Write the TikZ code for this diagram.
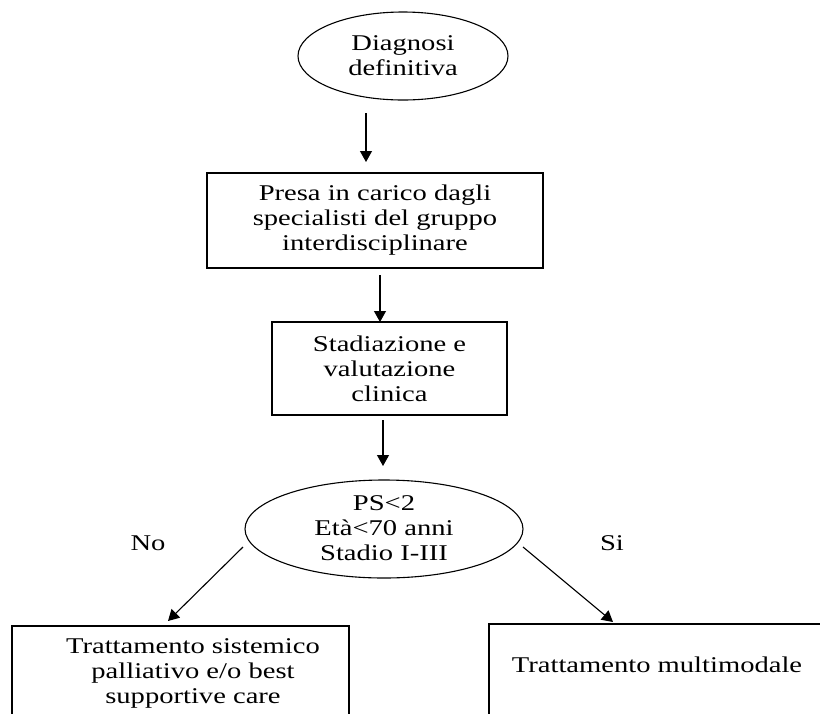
\documentclass[tikz,border=0pt]{standalone}
\usepackage{fontspec}
\setmainfont{Liberation Serif}[FakeStretch=1.27]
\usetikzlibrary{shapes.geometric,arrows.meta}
\begin{document}
\begin{tikzpicture}[x=1pt,y=-1pt,
  txt/.style={align=center,inner sep=0pt,font=\fontsize{22.5}{25}\selectfont},
  oval/.style={draw,ellipse,line width=1.1pt,inner sep=0pt},
  boxnode/.style={draw,rectangle,line width=1.1pt,inner sep=0pt},
  conn/.style={line width=1.1pt,-{Triangle[length=11pt,width=12pt]}}]
\useasboundingbox (0,0) rectangle (820,713);
\clip (0,0) rectangle (820,713);
% nodes
\node[oval,minimum width=210pt,minimum height=88pt] (d1) at (403,56) {};
\node[txt] (d1t) at (403,56) {Diagnosi\\definitiva};
\node[boxnode,txt,minimum width=336pt,minimum height=95pt] (b1) at (375,220.5)
  {Presa in carico dagli\\specialisti del gruppo\\interdisciplinare};
\node[boxnode,txt,minimum width=235pt,minimum height=93pt] (b2) at (389.5,368.5)
  {Stadiazione e\\valutazione\\clinica};
\node[oval,minimum width=278pt,minimum height=98pt] (d2) at (384,529) {};
\node[txt] (d2t) at (384,528) {PS<2\\Età<70 anni\\Stadio I-III};
\node[boxnode,minimum width=337pt,minimum height=160pt] (b3) at (180.5,706) {};
\node[txt] (b3t) at (193,673) {Trattamento sistemico\\palliativo e/o best\\supportive care};
\node[boxnode,minimum width=400pt,minimum height=160pt] (b4) at (689,704) {};
\node[txt] (b4t) at (657,665) {Trattamento multimodale};
\node[txt] (no) at (148,543) {No};
\node[txt] (si) at (612,543) {Si};
% connector ends
\coordinate (a1s) at (366,113); \coordinate (a1e) at (366,162);
\coordinate (a2s) at (380,275); \coordinate (a2e) at (380,322);
\coordinate (a3s) at (383,420); \coordinate (a3e) at (383,466);
\coordinate (a4s) at (243,547); \coordinate (a4e) at (168,621);
\coordinate (a5s) at (523,547); \coordinate (a5e) at (613,622);
\draw[conn] (a1s) -- (a1e);
\draw[conn] (a2s) -- (a2e);
\draw[conn] (a3s) -- (a3e);
\draw[conn] (a4s) -- (a4e);
\draw[conn] (a5s) -- (a5e);
\end{tikzpicture}
\end{document}
